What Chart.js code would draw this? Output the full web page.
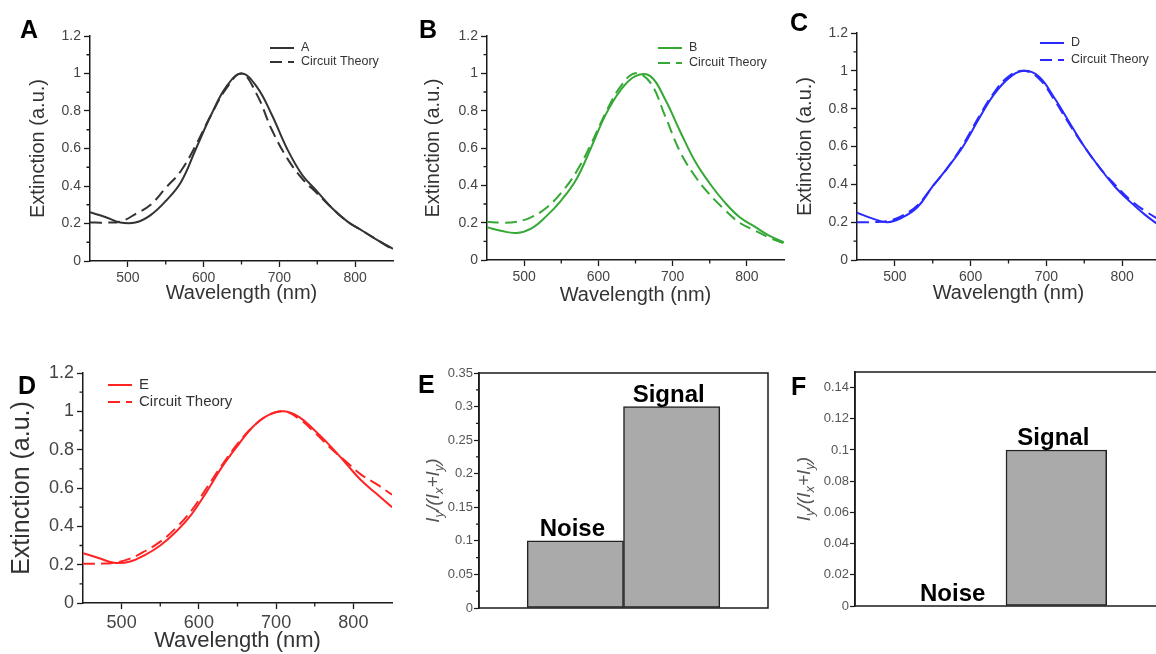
<!DOCTYPE html>
<html>
<head>
<meta charset="utf-8">
<script src="https://cdn.jsdelivr.net/npm/chart.js@4.4.0/dist/chart.umd.min.js"></script>
<style>
  html, body { margin: 0; padding: 0; background: #fff; }
  #sheet { position: relative; width: 1156px; height: 654px; overflow: hidden; background: #fff; }
  #sheet canvas { position: absolute; }
  .tag { position: absolute; font: bold 25px "Liberation Sans", Arial, sans-serif; line-height: 1; color: #000; }
</style>
</head>
<body>
<div id="sheet">
  <canvas id="chart-a" width="400" height="320" style="left:0;top:0"></canvas>
  <canvas id="chart-b" width="390" height="320" style="left:400px;top:0"></canvas>
  <canvas id="chart-c" width="390" height="320" style="left:780px;top:0"></canvas>
  <canvas id="chart-d" width="400" height="324" style="left:0;top:330px"></canvas>
  <canvas id="chart-e" width="380" height="324" style="left:400px;top:330px"></canvas>
  <canvas id="chart-f" width="380" height="324" style="left:780px;top:330px"></canvas>
  <div class="tag" style="left:20px;top:17px">A</div>
  <div class="tag" style="left:419px;top:17px">B</div>
  <div class="tag" style="left:790px;top:10px">C</div>
  <div class="tag" style="left:18px;top:373px">D</div>
  <div class="tag" style="left:418px;top:372px">E</div>
  <div class="tag" style="left:791px;top:374px">F</div>
</div>
<script>
Chart.defaults.font.family = '"Liberation Sans", Arial, sans-serif';
Chart.defaults.animation = false;

// wavelength grid shared by all spectra (nm)
const wavelengths = [450, 470, 490, 510, 530, 550, 570, 590, 610, 630, 650, 670, 690, 710, 730, 750, 770, 790, 810, 830, 850];

// normalised extinction
const specA   = [0.26, 0.235, 0.205, 0.205, 0.245, 0.32, 0.42, 0.60, 0.78, 0.93, 1.0, 0.93, 0.78, 0.60, 0.46, 0.37, 0.28, 0.21, 0.16, 0.11, 0.065];
const theoryA = [0.205, 0.205, 0.21, 0.25, 0.30, 0.39, 0.48, 0.62, 0.78, 0.92, 1.0, 0.89, 0.70, 0.55, 0.44, 0.36, 0.28, 0.21, 0.16, 0.11, 0.06];
const specB   = [0.175, 0.155, 0.145, 0.17, 0.235, 0.32, 0.43, 0.60, 0.78, 0.91, 0.985, 0.985, 0.86, 0.69, 0.53, 0.41, 0.31, 0.23, 0.18, 0.13, 0.095];
const theoryB = [0.205, 0.20, 0.205, 0.23, 0.28, 0.36, 0.47, 0.62, 0.79, 0.93, 1.0, 0.95, 0.77, 0.58, 0.45, 0.35, 0.27, 0.20, 0.16, 0.12, 0.09];
const specD   = [0.25, 0.22, 0.20, 0.225, 0.28, 0.39, 0.49, 0.60, 0.74, 0.87, 0.96, 1.0, 0.97, 0.86, 0.73, 0.60, 0.49, 0.39, 0.31, 0.24, 0.18];
const theoryD = [0.20, 0.20, 0.205, 0.235, 0.29, 0.39, 0.49, 0.61, 0.75, 0.88, 0.97, 1.0, 0.96, 0.85, 0.72, 0.60, 0.49, 0.40, 0.32, 0.26, 0.21];
const specE   = [0.26, 0.235, 0.21, 0.215, 0.25, 0.30, 0.37, 0.46, 0.58, 0.71, 0.82, 0.92, 0.98, 1.0, 0.97, 0.90, 0.82, 0.73, 0.64, 0.57, 0.50];
const theoryE = [0.205, 0.205, 0.21, 0.23, 0.27, 0.32, 0.39, 0.48, 0.60, 0.72, 0.83, 0.92, 0.98, 1.0, 0.96, 0.89, 0.81, 0.74, 0.67, 0.62, 0.565];

const xTicks = [500, 600, 700, 800];
const xMinor = [550, 650, 750];
const yTicks = [0, 0.2, 0.4, 0.6, 0.8, 1.0, 1.2];
const yMinor = [0.1, 0.3, 0.5, 0.7, 0.9, 1.1];

// bar panels
const barNames = ['Noise', 'Signal'];
const barSlots = [1, 2];
const ratioE = [0.1, 0.3];
const ratioF = [0, 0.1];
const yTicksE = [0, 0.05, 0.1, 0.15, 0.2, 0.25, 0.3, 0.35];
const yMinorE = [0.025, 0.075, 0.125, 0.175, 0.225, 0.275, 0.325];
const yTicksF = [0, 0.02, 0.04, 0.06, 0.08, 0.1, 0.12, 0.14];

const INK = '#1a1a1a';
const plainNumber = v => String(+v.toFixed(3));   // 1, 0.8, 0.35 ... no padded zeros

function minorTicks(xs, ys, len) {
  return {
    id: 'minorTicks',
    afterDraw(chart) {
      const { ctx, chartArea, scales } = chart;
      ctx.save();
      ctx.strokeStyle = INK;
      ctx.lineWidth = 1.3;
      ctx.beginPath();
      xs.forEach(v => {
        const px = scales.x.getPixelForValue(v);
        ctx.moveTo(px, chartArea.bottom);
        ctx.lineTo(px, chartArea.bottom + len);
      });
      ys.forEach(v => {
        const py = scales.y.getPixelForValue(v);
        ctx.moveTo(chartArea.left, py);
        ctx.lineTo(chartArea.left - len, py);
      });
      ctx.stroke();
      ctx.restore();
    }
  };
}

function curveLegend(x, y, gap, size) {
  return {
    id: 'curveLegend',
    afterDraw(chart) {
      const ctx = chart.ctx;
      ctx.save();
      ctx.font = size + 'px "Liberation Sans", Arial, sans-serif';
      ctx.textBaseline = 'middle';
      chart.data.datasets.forEach((ds, i) => {
        const yy = y + i * gap;
        ctx.strokeStyle = ds.borderColor;
        ctx.lineWidth = ds.borderWidth;
        ctx.setLineDash(ds.borderDash || []);
        ctx.beginPath();
        ctx.moveTo(x, yy);
        ctx.lineTo(x + 24, yy);
        ctx.stroke();
        ctx.setLineDash([]);
        ctx.fillStyle = '#333';
        ctx.fillText(ds.label, x + 31, yy);
      });
      ctx.restore();
    }
  };
}

function spectrumChart(id, name, color, spec, theory, p) {
  return new Chart(document.getElementById(id), {
    type: 'line',
    data: {
      datasets: [
        { label: name, data: wavelengths.map((w, i) => ({ x: w, y: spec[i] })),
          borderColor: color, borderWidth: 2, pointRadius: 0, tension: 0.4 },
        { label: 'Circuit Theory', data: wavelengths.map((w, i) => ({ x: w, y: theory[i] })),
          borderColor: color, borderWidth: 2, borderDash: [12, 6], pointRadius: 0, tension: 0.4 }
      ]
    },
    options: {
      responsive: false,
      layout: { padding: { left: 0, top: p.top, right: p.right, bottom: 0 } },
      plugins: { legend: { display: false }, tooltip: { enabled: false } },
      scales: {
        x: {
          type: 'linear', min: 450, max: 850,
          afterBuildTicks: s => { s.ticks = xTicks.map(v => ({ value: v })); },
          afterFit: s => { s.height = p.xh; },
          grid: { drawOnChartArea: false, tickLength: 6, tickColor: INK, tickWidth: 1.3 },
          border: { color: INK, width: 1.5 },
          ticks: { font: { size: p.tick }, color: '#444', padding: 3, maxRotation: 0, callback: plainNumber },
          title: { display: true, text: 'Wavelength (nm)', color: '#333', font: { size: p.xt }, padding: { top: 0, bottom: p.xtPad } }
        },
        y: {
          min: 0, max: 1.2,
          afterBuildTicks: s => { s.ticks = yTicks.map(v => ({ value: v })); },
          afterFit: s => { s.width = p.yw; },
          grid: { drawOnChartArea: false, tickLength: 6, tickColor: INK, tickWidth: 1.3 },
          border: { color: INK, width: 1.5 },
          ticks: { font: { size: p.tick }, color: '#444', padding: 3, callback: plainNumber },
          title: { display: true, text: 'Extinction (a.u.)', color: '#333', font: { size: p.yt }, padding: { top: p.ytPad, bottom: 0 } }
        }
      }
    },
    plugins: [minorTicks(xMinor, yMinor, 3.5), curveLegend(p.lx, p.ly, p.lgap, p.lsize)]
  });
}

spectrumChart('chart-a', 'A', '#333333', specA, theoryA,
  { top: 36, right: 7, xh: 59, yw: 90, tick: 14, xt: 20, yt: 20, xtPad: 15, ytPad: 26, lx: 270, ly: 48, lgap: 14, lsize: 12.5 });
spectrumChart('chart-b', 'B', '#35a835', specB, theoryB,
  { top: 36, right: 6, xh: 60, yw: 87, tick: 14, xt: 20, yt: 20, xtPad: 13, ytPad: 21, lx: 258, ly: 48, lgap: 15, lsize: 12.5 });
spectrumChart('chart-c', 'D', '#2a2aff', specD, theoryD,
  { top: 33, right: 10, xh: 60, yw: 77, tick: 14, xt: 20, yt: 20, xtPad: 15, ytPad: 13, lx: 260, ly: 43, lgap: 17, lsize: 12.5 });
spectrumChart('chart-d', 'E', '#ff2424', specE, theoryE,
  { top: 43, right: 8, xh: 51, yw: 83, tick: 18, xt: 22, yt: 25, xtPad: 0, ytPad: 7, lx: 108, ly: 55, lgap: 17, lsize: 15 });

// I_y/(I_x+I_y) label with subscripts, rotated
function ratioTitle(dx) {
  return {
    id: 'ratioTitle',
    afterDraw(chart) {
      const { ctx, chartArea } = chart;
      const parts = [['I', 0], ['y', 1], ['/(I', 0], ['x', 1], ['+I', 0], ['y', 1], [')', 0]];
      const big = 'italic 19px "Liberation Sans", Arial, sans-serif';
      const small = 'italic 13px "Liberation Sans", Arial, sans-serif';
      ctx.save();
      ctx.translate(chartArea.left - dx, (chartArea.top + chartArea.bottom) / 2);
      ctx.rotate(-Math.PI / 2);
      ctx.fillStyle = '#555';
      ctx.textBaseline = 'alphabetic';
      let total = 0;
      parts.forEach(([t, s]) => { ctx.font = s ? small : big; total += ctx.measureText(t).width; });
      let x = -total / 2;
      parts.forEach(([t, s]) => {
        ctx.font = s ? small : big;
        ctx.fillText(t, x, s ? 11 : 7);
        x += ctx.measureText(t).width;
      });
      ctx.restore();
    }
  };
}

const frame = {
  id: 'frame',
  afterDatasetsDraw(chart) {
    const { ctx, chartArea: a } = chart;
    ctx.save();
    ctx.strokeStyle = INK;
    ctx.lineWidth = 1.5;
    ctx.strokeRect(a.left, a.top, a.right - a.left, a.bottom - a.top);
    ctx.restore();
  }
};

const barLabels = {
  id: 'barLabels',
  afterDatasetsDraw(chart) {
    const ctx = chart.ctx;
    ctx.save();
    ctx.font = 'bold 24px "Liberation Sans", Arial, sans-serif';
    ctx.fillStyle = '#000';
    ctx.textAlign = 'center';
    ctx.textBaseline = 'alphabetic';
    chart.getDatasetMeta(0).data.forEach((bar, i) => {
      ctx.fillText(barNames[i], bar.x - 3, bar.y - 5);
    });
    ctx.restore();
  }
};

function ratioChart(id, values, ticks, minor, yMax, p) {
  return new Chart(document.getElementById(id), {
    type: 'bar',
    data: {
      datasets: [{
        label: 'ratio',
        data: barSlots.map((x, i) => ({ x: x, y: values[i] })),
        backgroundColor: '#aaaaaa',
        borderColor: '#222',
        borderWidth: 1.5,
        borderSkipped: false,
        categoryPercentage: 1,
        barPercentage: 1
      }]
    },
    options: {
      responsive: false,
      layout: { padding: { left: 0, top: p.top, right: p.right, bottom: p.bottom } },
      plugins: { legend: { display: false }, tooltip: { enabled: false } },
      scales: {
        x: { type: 'linear', min: 0, max: 3, offset: false, display: false, ticks: { stepSize: 1 } },
        y: {
          min: 0, max: yMax,
          afterBuildTicks: s => { s.ticks = ticks.map(v => ({ value: v })); },
          afterFit: s => { s.width = p.yw; },
          grid: { drawOnChartArea: false, tickLength: 5, tickColor: INK, tickWidth: 1.2 },
          border: { color: INK, width: 1.5 },
          ticks: { font: { size: 13 }, color: '#555', padding: 1, callback: plainNumber }
        }
      }
    },
    plugins: [frame, barLabels, minorTicks([], minor, 3), ratioTitle(p.titleDx)]
  });
}

ratioChart('chart-e', ratioE, yTicksE, yMinorE, 0.35, { top: 43, right: 12, bottom: 46, yw: 79, titleDx: 47 });
ratioChart('chart-f', ratioF, yTicksF, [], 0.15, { top: 42, right: 3, bottom: 48, yw: 75, titleDx: 52 });
</script>
</body>
</html>
